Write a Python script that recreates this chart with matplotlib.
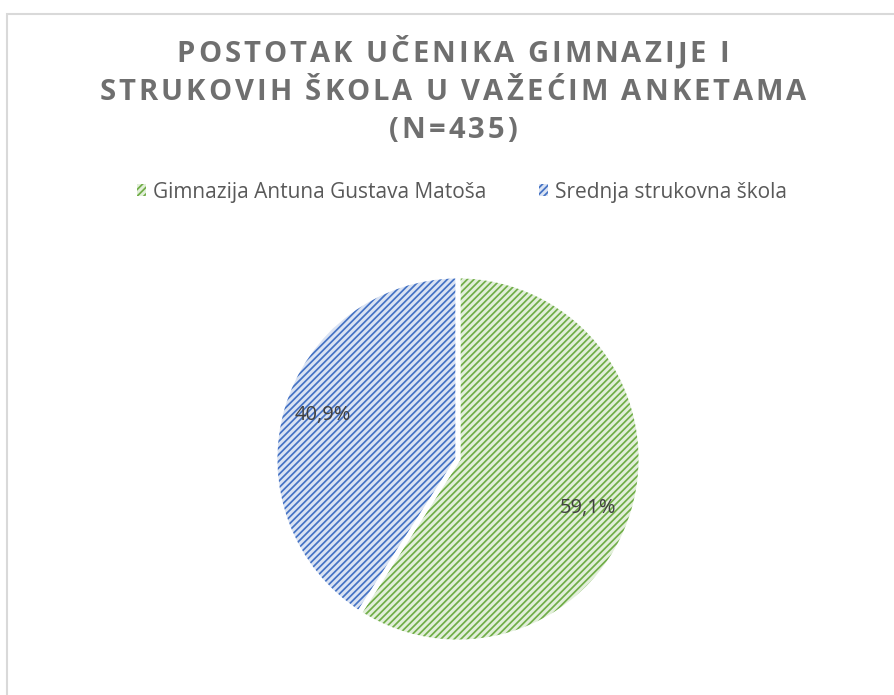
import matplotlib
matplotlib.use("Agg")
import matplotlib.pyplot as plt
from matplotlib.patches import Rectangle

# Data
title_lines = ["POSTOTAK UČENIKA GIMNAZIJE I", "STRUKOVIH ŠKOLA U VAŽEĆIM ANKETAMA", "(N=435)"]
school_names = ["Gimnazija Antuna Gustava Matoša", "Srednja strukovna škola"]
student_counts = [257, 178]

face_colors = ["#e2efda", "#dae3f3"]
stripe_colors = ["#70ad47", "#4472c4"]

W, H = 894, 695
plt.rcParams["font.family"] = ["Open Sans", "DejaVu Sans"]
plt.rcParams["hatch.linewidth"] = 1.25

fig = plt.figure(figsize=(W / 100, H / 100), dpi=100)
renderer = fig.canvas.get_renderer()


def spaced_text(s, y_px, spacing_px, **kw):
    # measure every character and lay them out with extra letter spacing
    widths = []
    for ch in s:
        if ch == " ":
            a = fig.text(0, 0, "a a", **kw)
            b = fig.text(0, 0, "aa", **kw)
            w = a.get_window_extent(renderer).width - b.get_window_extent(renderer).width
            a.remove()
            b.remove()
        else:
            t = fig.text(0, 0, ch, **kw)
            w = t.get_window_extent(renderer).width
            t.remove()
        widths.append(w)
    total = sum(widths) + spacing_px * (len(s) - 1)
    x = W / 2 - total / 2 + 6
    for ch, w in zip(s, widths):
        fig.text(x / W, 1 - y_px / H, ch, ha="left", va="center", **kw)
        x += w + spacing_px


# Frame around the chart area
fig.patches.append(Rectangle((7 / W, -0.05), 1.1, 1 - 14 / H + 0.05, transform=fig.transFigure,
                             fill=False, edgecolor="#d9d9d9", linewidth=1.5, clip_on=False))

# Title
title_style = dict(fontsize=21, fontweight="bold", color="#6f6f6f")
for line, y in zip(title_lines, [55, 93, 131]):
    spaced_text(line, y, 3.0, **title_style)

# Pie
cx, cy, r = 458, 459, 183
pad = 1.02
ax = fig.add_axes([(cx - r * pad) / W, (H - cy - r * pad) / H, 2 * r * pad / W, 2 * r * pad / H])


def pct_label(p):
    return f"{p:.1f}%".replace(".", ",")


wedges, texts, autotexts = ax.pie(student_counts, startangle=90, counterclock=False,
                                  colors=face_colors, autopct=pct_label,
                                  wedgeprops=dict(linewidth=0),
                                  textprops=dict(fontsize=14.5, color="#404040"))
stripes, _ = ax.pie(student_counts, startangle=90, counterclock=False,
                    colors=["none", "none"],
                    wedgeprops=dict(linewidth=0, fill=False))
for wdg, col in zip(stripes, stripe_colors):
    wdg.set_hatch("/////")
    wdg.set_edgecolor(col)
    wdg.set_linewidth(0)
edges, _ = ax.pie(student_counts, startangle=90, counterclock=False,
                  colors=["none", "none"],
                  wedgeprops=dict(linewidth=3.5, edgecolor="white", fill=False))
# Excel "best fit" label spots
for t, pos in zip(autotexts, [(0.71, -0.27), (-0.74, 0.24)]):
    t.set_position(pos)
    t.set_zorder(5)
ax.set_xlim(-pad, pad)
ax.set_ylim(-pad, pad)
ax.set_aspect("equal")
ax.axis("off")

# Legend
leg_handles = []
for fc, sc in zip(face_colors, stripe_colors):
    leg_handles.append(Rectangle((0, 0), 1, 1, facecolor=fc, edgecolor=sc, hatch="/////", linewidth=0))
fig.legend(leg_handles, school_names, loc="center", bbox_to_anchor=(462 / W, 1 - 192 / H),
           ncol=2, frameon=False, fontsize=15, labelcolor="#595959",
           handlelength=0.45, handleheight=0.45, handletextpad=0.35, columnspacing=2.5)

fig.savefig("out.png", dpi=100)
